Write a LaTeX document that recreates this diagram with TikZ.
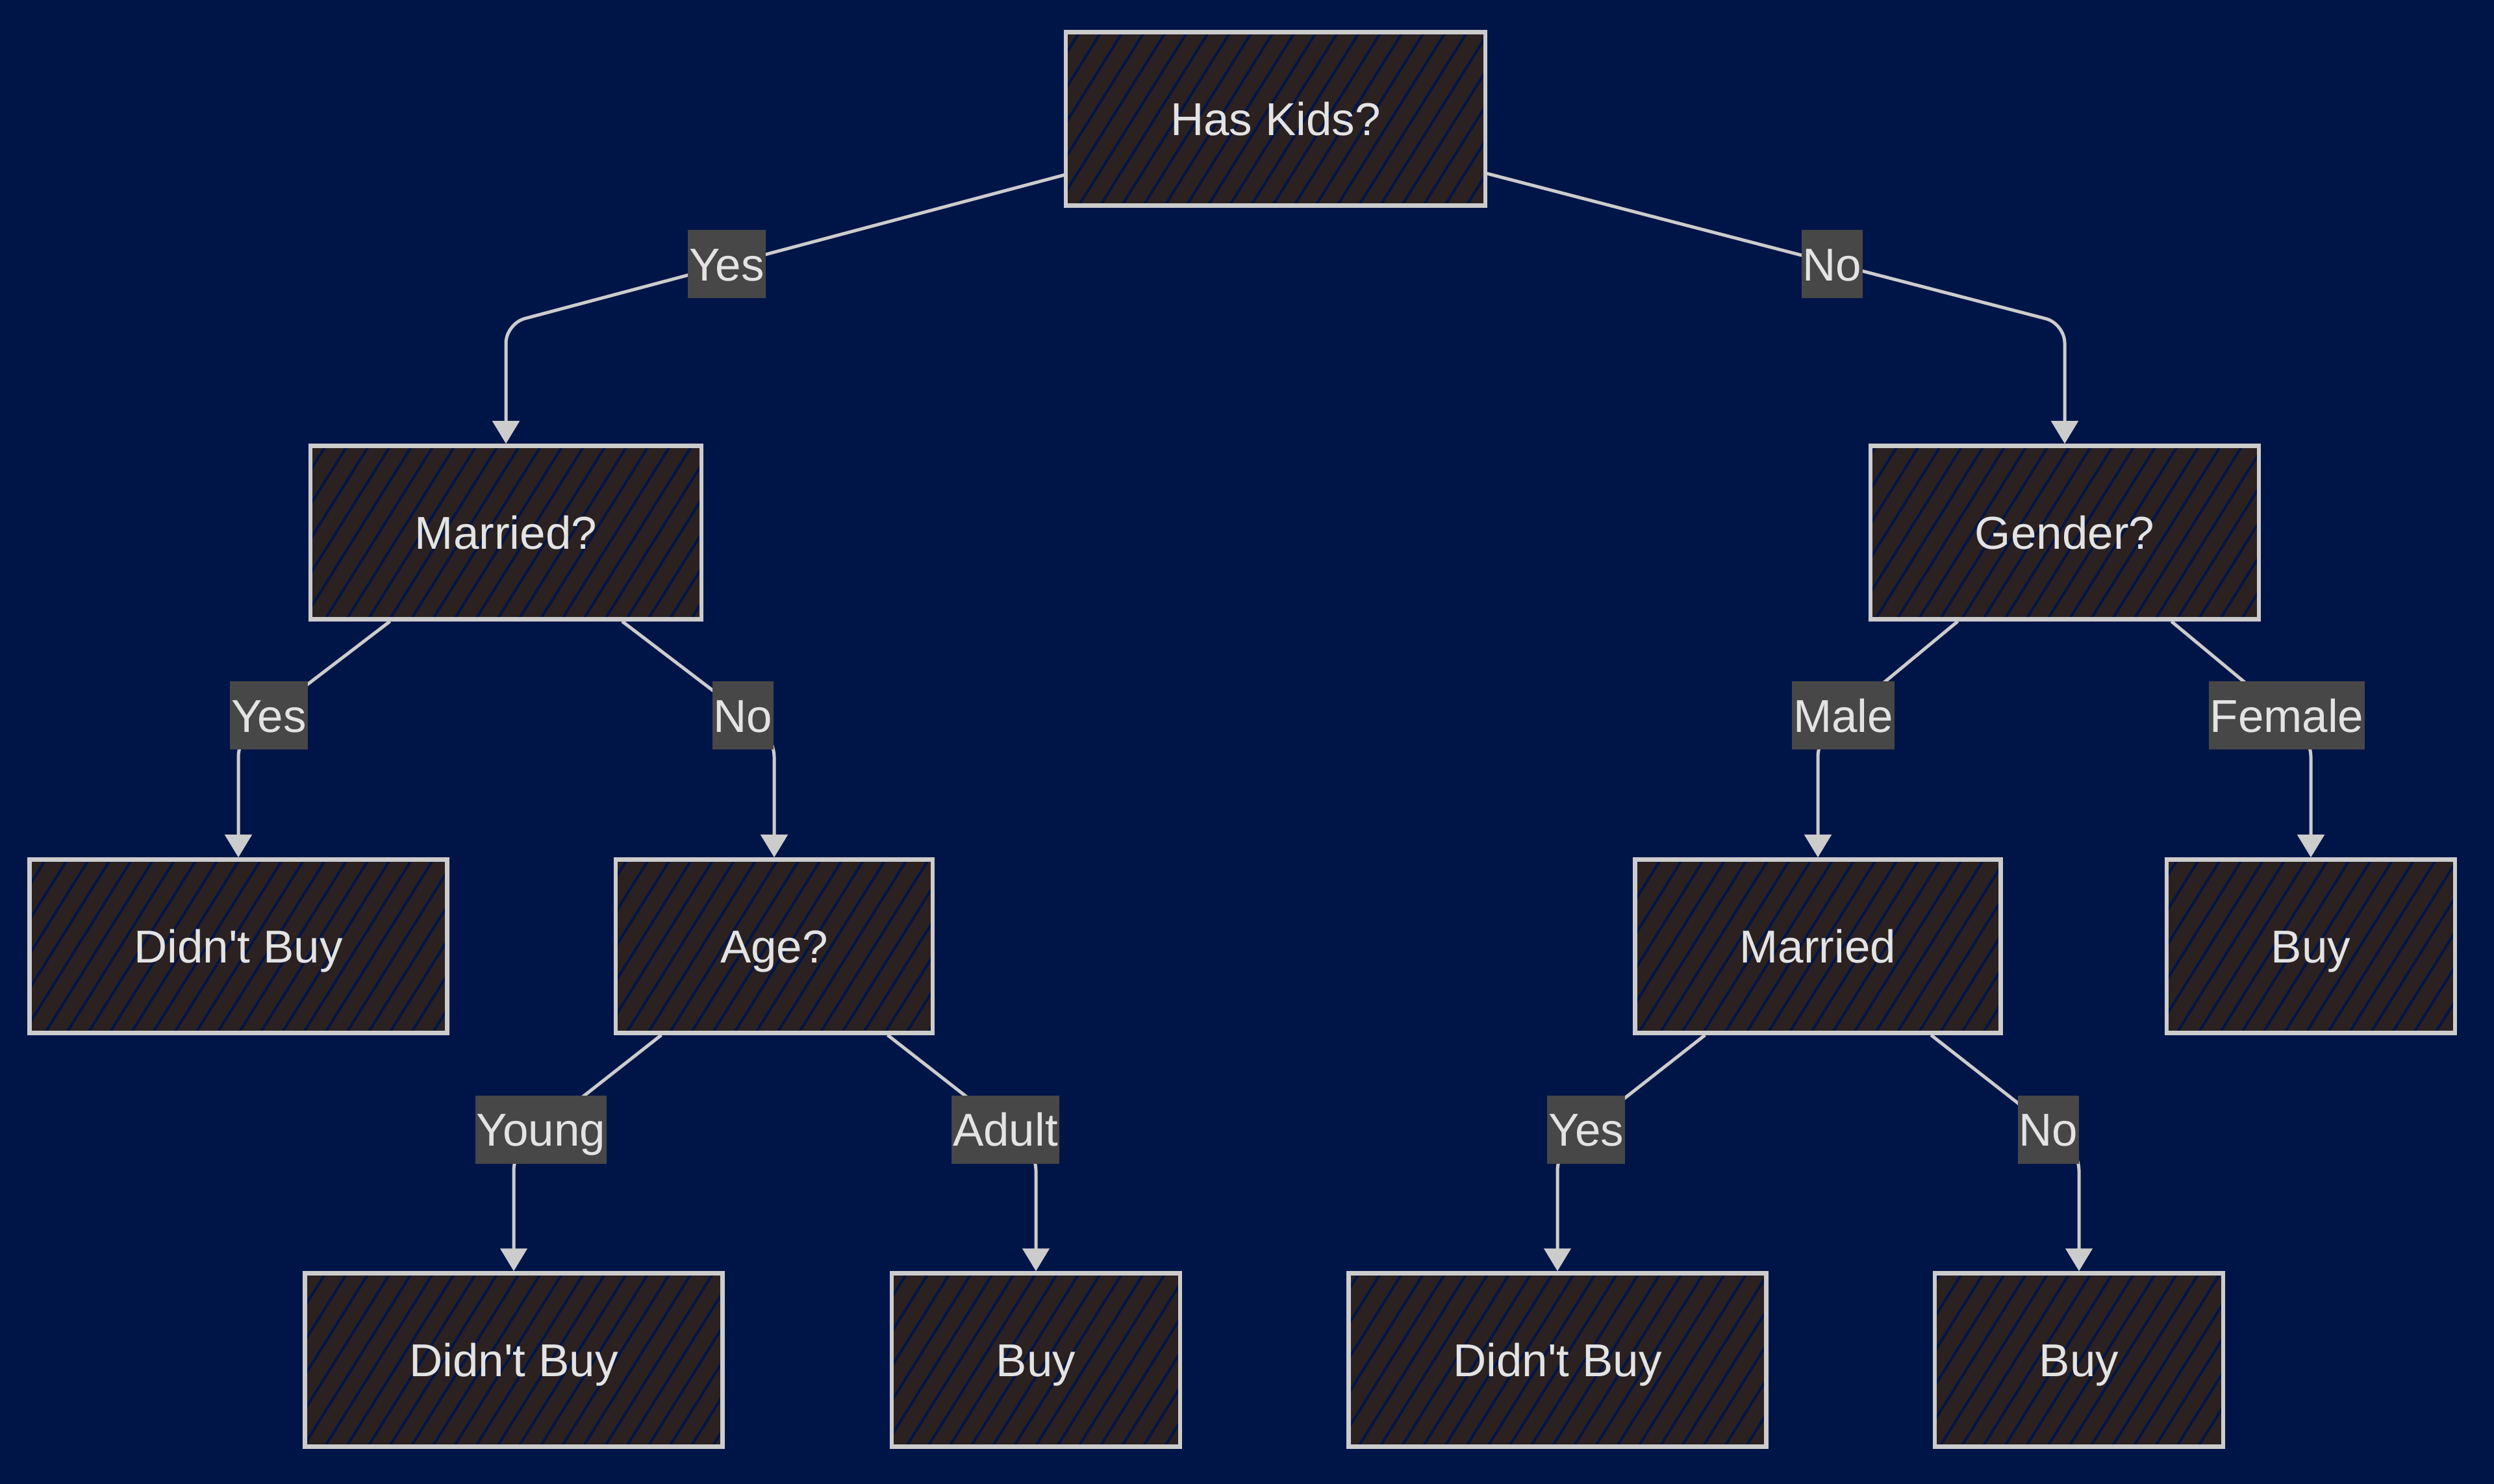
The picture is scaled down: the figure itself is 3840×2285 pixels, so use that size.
\documentclass[tikz,border=0pt]{standalone}
\usepackage{fontspec}
\newfontfamily\boxfont{Liberation Sans}
\usepackage{tikz}
\usetikzlibrary{arrows.meta,patterns.meta}
\definecolor{bgblue}{HTML}{001547}
\definecolor{boxfill}{HTML}{2B2121}
\definecolor{edgegray}{HTML}{CCCCCC}
\definecolor{lblfill}{HTML}{474747}
\definecolor{txt}{HTML}{E3E3E3}

\begin{document}
\begin{tikzpicture}[%
  x=0.1mm, y=-0.1mm,
  decision/.style={draw=edgegray, line width=0.65mm, preaction={fill=boxfill},
    pattern={Lines[angle=58,distance=8pt,line width=1.1pt]}, pattern color=bgblue,
    text=txt, font=\boxfont\fontsize{20.2}{24}\selectfont,
    text height=18.2pt, text depth=3.7pt,
    inner xsep=16.1mm, minimum height=26.7mm},
  answer/.style={fill=lblfill, text=txt, font=\boxfont\fontsize{20.2}{24}\selectfont,
    text height=18.2pt, text depth=3.7pt,
    inner xsep=0.2mm, inner ysep=0pt, minimum height=10.5mm},
  edge/.style={draw=edgegray, line width=0.5mm, rounded corners=3mm,
    -{Triangle[width=4.1mm,length=3.5mm]}}]

\fill[bgblue] (0,0) rectangle (3840,2285);

\node[decision] (haskids) at (1964,183) {Has Kids?};
\node[decision] (marriedq) at (779,820) {Married?};
\node[decision] (gender) at (3179,820) {Gender?};
\node[decision] (nobuyA) at (367,1457) {Didn't Buy};
\node[decision] (age) at (1192,1457) {Age?};
\node[decision] (married) at (2799,1457) {Married};
\node[decision] (buyA) at (3558,1457) {Buy};
\node[decision] (nobuyB) at (791,2094) {Didn't Buy};
\node[decision] (buyB) at (1595,2094) {Buy};
\node[decision] (nobuyC) at (2398,2094) {Didn't Buy};
\node[decision] (buyC) at (3201,2094) {Buy};

\foreach \a/\b in {haskids/marriedq, haskids/gender, marriedq/nobuyA, marriedq/age,
    gender/married, gender/buyA, age/nobuyB, age/buyB, married/nobuyC, married/buyC}
  \draw[edge] (\a) -- ([yshift=18.5mm]\b.north) -- (\b);

\node[answer] (kidsyes) at (1119,407) {Yes};
\node[answer] (kidsno) at (2821,407) {No};
\node[answer] (marryes) at (414,1102) {Yes};
\node[answer] (marrno) at (1144,1102) {No};
\node[answer] (male) at (2838,1102) {Male};
\node[answer] (female) at (3521,1102) {Female};
\node[answer] (young) at (833,1739) {Young};
\node[answer] (adult) at (1548,1739) {Adult};
\node[answer] (twoyes) at (2442,1739) {Yes};
\node[answer] (twono) at (3154,1739) {No};
\end{tikzpicture}
\end{document}
